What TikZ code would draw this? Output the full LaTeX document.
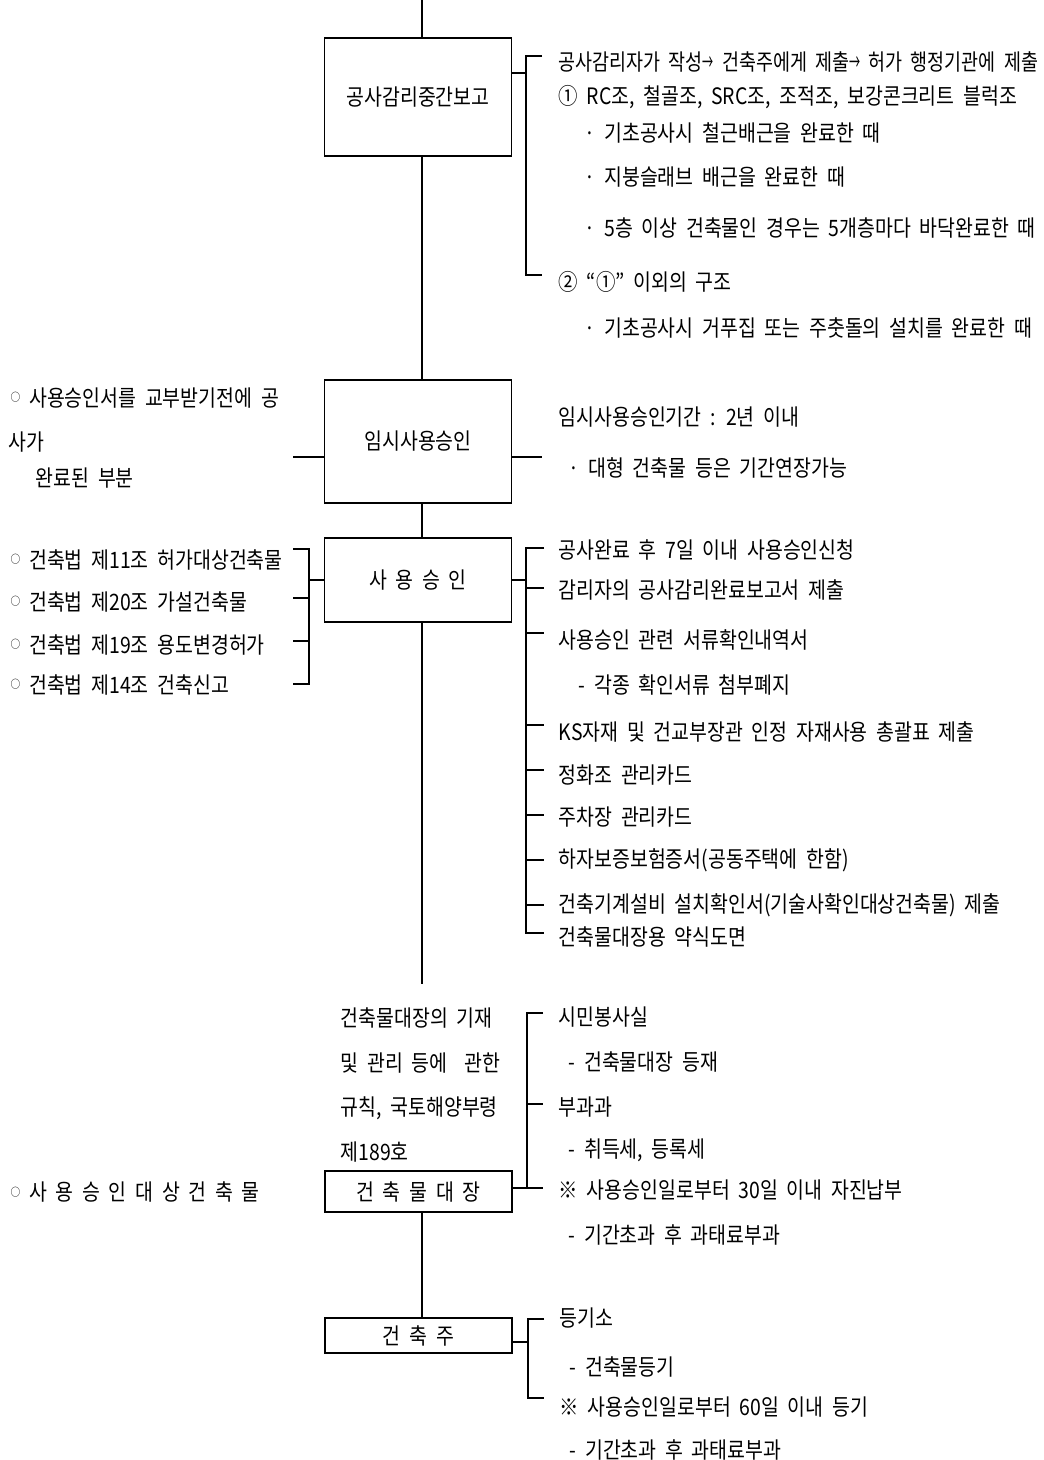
\documentclass[tikz,border=0pt]{standalone}
\usepackage{fontspec}
\setmainfont[FakeStretch=0.86,WordSpace=2]{Noto Sans CJK KR}

\newcommand{\ring}{\raisebox{0.2em}{\scalebox{0.5}{○}}}
\newcommand{\thinarrow}{\scalebox{0.6}[1]{→}}

\tikzset{
  stage/.style={draw, inner sep=0pt, minimum width=93.5pt},
  item/.style={anchor=west, inner sep=0pt},
}

\begin{document}
\begin{tikzpicture}[x=0.5pt, y=-0.5pt, line width=0.7pt, font=\fontsize{11.3}{13}\selectfont]
  \useasboundingbox (0,0) rectangle (1043,1460);

  % stages on the main line
  \node[stage, minimum height=59pt]   (gamri)    at (418,97)      {공사감리중간보고};
  \node[stage, minimum height=61.5pt] (imsi)     at (418,441.5)   {임시사용승인};
  \node[stage, minimum height=42pt]   (sayong)   at (418,580)     {사 용 승 인};
  \node[stage, minimum height=20.5pt] (daejang)  at (418.5,1191.5) {건 축 물 대 장};
  \node[stage, minimum height=17.5pt] (geonchuk) at (418.5,1335.5) {건 축 주};

  \coordinate (top) at (422,0);
  \coordinate (mainend) at (422,984);
  \draw (top) -- (top |- gamri.north);
  \draw (top |- gamri.south) -- (top |- imsi.north);
  \draw (top |- imsi.south) -- (top |- sayong.north);
  \draw (top |- sayong.south) -- (mainend);
  \draw (top |- daejang.south) -- (top |- geonchuk.north);

  % 공사감리중간보고
  \node[item] (g1) at (558,62)  {\scalebox{0.95}[1]{공사감리자가 작성\thinarrow{} 건축주에게 제출\thinarrow{} 허가 행정기관에 제출}};
  \node[item] (g2) at (558,97)  {① RC조, 철골조, SRC조, 조적조, 보강콘크리트 블럭조};
  \node[item] (g3) at (584,133) {· 기초공사시 철근배근을 완료한 때};
  \node[item] (g4) at (584,177) {· 지붕슬래브 배근을 완료한 때};
  \node[item] (g5) at (584,228) {· 5층 이상 건축물인 경우는 5개층마다 바닥완료한 때};
  \node[item] (g6) at (558,282) {② “①” 이외의 구조};
  \node[item] (g7) at (584,328) {· 기초공사시 거푸집 또는 주춧돌의 설치를 완료한 때};
  \coordinate (b1t) at (526,56);
  \coordinate (b1m) at (526,73);
  \coordinate (b1b) at (526,275);
  \draw (b1m -| gamri.east) -- (b1m);
  \draw ([xshift=8pt]b1t) -- (b1t) -- (b1b) -- ([xshift=8pt]b1b);

  % 임시사용승인
  \node[item] (i1) at (558,417) {임시사용승인기간 : 2년 이내};
  \node[item] (i2) at (568,468) {· 대형 건축물 등은 기간연장가능};
  \node[item] (il1) at (10,398) {\ring\ 사용승인서를 교부받기전에 공};
  \node[item] (il2) at (8,442) {사가};
  \node[item] (il3) at (35,478) {완료된 부분};
  \coordinate (i2r) at (542,457);
  \coordinate (i2l) at (293,457);
  \draw (i2r -| imsi.east) -- (i2r);
  \draw (i2l) -- (i2l -| imsi.west);

  % 사용승인
  \node[item] (s1)  at (558,550) {공사완료 후 7일 이내 사용승인신청};
  \node[item] (s2)  at (558,590) {감리자의 공사감리완료보고서 제출};
  \node[item] (s3)  at (558,640) {사용승인 관련 서류확인내역서};
  \node[item] (s4)  at (578,685) {- 각종 확인서류 첨부폐지};
  \node[item] (s5)  at (558,732) {KS자재 및 건교부장관 인정 자재사용 총괄표 제출};
  \node[item] (s6)  at (558,775) {정화조 관리카드};
  \node[item] (s7)  at (558,817) {주차장 관리카드};
  \node[item] (s8)  at (558,860) {하자보증보험증서(공동주택에 한함)};
  \node[item] (s9)  at (558,905) {건축기계설비 설치확인서(기술사확인대상건축물) 제출};
  \node[item] (s10) at (558,937) {건축물대장용 약식도면};
  \coordinate (b3t) at (526,548);
  \coordinate (b3m) at (526,580);
  \coordinate (b3b) at (526,933);
  \draw (b3m -| sayong.east) -- (b3m);
  \draw ([xshift=9pt]b3t) -- (b3t) -- (b3b) -- ([xshift=9pt]b3b);
  \foreach \ty in {588,633,725,770,815,860,905}
    \draw (526,\ty) -- (544,\ty);

  \node[item] (sl1) at (10,560) {\ring\ 건축법 제11조 허가대상건축물};
  \node[item] (sl2) at (10,602) {\ring\ 건축법 제20조 가설건축물};
  \node[item] (sl3) at (10,645) {\ring\ 건축법 제19조 용도변경허가};
  \node[item] (sl4) at (10,685) {\ring\ 건축법 제14조 건축신고};
  \coordinate (bl3t) at (309,549);
  \coordinate (bl3m) at (309,580);
  \coordinate (bl3b) at (309,684);
  \draw (bl3m) -- (bl3m -| sayong.west);
  \draw ([xshift=-8pt]bl3t) -- (bl3t) -- (bl3b) -- ([xshift=-8pt]bl3b);
  \foreach \ty in {598,641}
    \draw (293,\ty) -- (309,\ty);

  % 건축물대장
  \node[item] (dn1) at (340,1018) {건축물대장의 기재};
  \node[item] (dn2) at (340,1063) {및 관리 등에\ \ 관한};
  \node[item] (dn3) at (340,1108) {규칙, 국토해양부령};
  \node[item] (dn4) at (340,1152) {제189호};
  \node[item] (dl1) at (10,1192) {\ring\ 사 용 승 인 대 상 건 축 물};
  \node[item] (d1) at (558,1017) {시민봉사실};
  \node[item] (d2) at (568,1062) {- 건축물대장 등재};
  \node[item] (d3) at (558,1107) {부과과};
  \node[item] (d4) at (568,1150) {- 취득세, 등록세};
  \node[item] (d5) at (558,1190) {※ 사용승인일로부터 30일 이내 자진납부};
  \node[item] (d6) at (568,1235) {- 기간초과 후 과태료부과};
  \coordinate (b4t) at (527,1013);
  \coordinate (b4b) at (527,1188);
  \draw (b4b -| daejang.east) -- ([xshift=8pt]b4b);
  \draw ([xshift=8pt]b4t) -- (b4t) -- (b4b);
  \draw (527,1104) -- (543,1104);

  % 건축주
  \node[item] (c1) at (559,1318) {등기소};
  \node[item] (c2) at (569,1367) {- 건축물등기};
  \node[item] (c3) at (559,1407) {※ 사용승인일로부터 60일 이내 등기};
  \node[item] (c4) at (569,1450) {- 기간초과 후 과태료부과};
  \coordinate (b5t) at (528,1319);
  \coordinate (b5m) at (528,1342);
  \coordinate (b5b) at (528,1398);
  \draw (b5m -| geonchuk.east) -- (b5m);
  \draw ([xshift=8pt]b5t) -- (b5t) -- (b5b) -- ([xshift=8pt]b5b);
\end{tikzpicture}
\end{document}
